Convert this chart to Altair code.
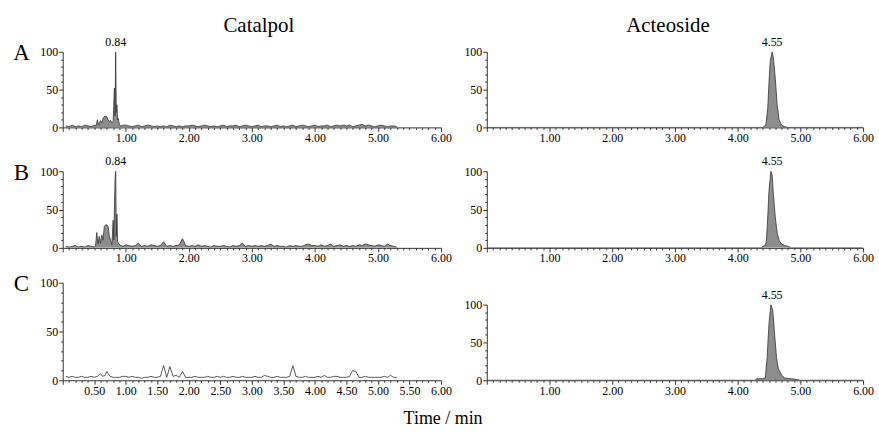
import altair as alt
import pandas as pd

# ---------------- data ----------------
early_times = [0.05, 0.10, 0.15, 0.20, 0.25, 0.30, 0.35, 0.40, 0.45, 0.50]

grid_times = [
    1.00, 1.05, 1.10, 1.15, 1.20, 1.25, 1.30, 1.35, 1.40, 1.45,
    1.50, 1.55, 1.60, 1.65, 1.70, 1.75, 1.80, 1.85, 1.90, 1.95,
    2.00, 2.05, 2.10, 2.15, 2.20, 2.25, 2.30, 2.35, 2.40, 2.45,
    2.50, 2.55, 2.60, 2.65, 2.70, 2.75, 2.80, 2.85, 2.90, 2.95,
    3.00, 3.05, 3.10, 3.15, 3.20, 3.25, 3.30, 3.35, 3.40, 3.45,
    3.50, 3.55, 3.60, 3.65, 3.70, 3.75, 3.80, 3.85, 3.90, 3.95,
    4.00, 4.05, 4.10, 4.15, 4.20, 4.25, 4.30, 4.35, 4.40, 4.45,
    4.50, 4.55, 4.60, 4.65, 4.70, 4.75, 4.80, 4.85, 4.90, 4.95,
    5.00, 5.05, 5.10, 5.15, 5.20, 5.25, 5.30,
]

# Catalpol, sample A
cat_a_early = [2, 1, 3, 1, 2, 1, 3, 2, 1, 3]
cat_a_peak_t = [0.53, 0.55, 0.57, 0.60, 0.62, 0.64, 0.67, 0.70, 0.72, 0.74, 0.76, 0.78,
                0.80, 0.82, 0.83, 0.84, 0.85, 0.86, 0.87, 0.88, 0.90, 0.93, 0.96]
cat_a_peak_v = [2, 10, 3, 9, 6, 12, 15, 14, 10, 8, 9, 6,
                8, 52, 15, 100, 20, 30, 10, 12, 3, 2, 3]
cat_a_noise = [
    3, 2, 1, 2, 3, 1, 2, 3, 2, 1,
    2, 1, 2, 1, 3, 2, 1, 2, 1, 2,
    2, 3, 2, 1, 2, 3, 2, 1, 2, 1,
    2, 3, 1, 2, 2, 3, 1, 2, 3, 2,
    1, 2, 3, 1, 2, 2, 1, 2, 3, 1,
    2, 1, 2, 3, 1, 2, 3, 2, 1, 2,
    3, 1, 2, 2, 3, 1, 2, 3, 2, 3,
    2, 3, 1, 2, 3, 4, 2, 3, 2, 1,
    2, 3, 2, 1, 2, 2, 1,
]

# Catalpol, sample B
cat_b_early = [2, 1, 2, 3, 1, 2, 1, 3, 2, 1]
cat_b_peak_t = [0.52, 0.54, 0.56, 0.58, 0.60, 0.62, 0.64, 0.66, 0.68, 0.70, 0.72, 0.74,
                0.76, 0.78, 0.80, 0.81, 0.83, 0.84, 0.85, 0.86, 0.87, 0.89, 0.92, 0.96]
cat_b_peak_v = [2, 20, 5, 15, 6, 17, 10, 28, 30, 30, 28, 15,
                10, 4, 36, 10, 88, 100, 15, 44, 8, 5, 3, 2]
cat_b_noise = [
    4, 3, 2, 3, 6, 2, 3, 2, 4, 3,
    2, 3, 8, 2, 3, 2, 3, 4, 12, 3,
    2, 3, 2, 4, 2, 3, 2, 1, 3, 2,
    2, 3, 2, 1, 3, 2, 3, 6, 2, 3,
    2, 3, 2, 3, 2, 3, 5, 2, 3, 2,
    2, 1, 3, 2, 3, 2, 2, 4, 5, 3,
    3, 2, 4, 2, 3, 5, 2, 3, 4, 2,
    3, 2, 3, 2, 4, 3, 5, 4, 3, 2,
    4, 3, 2, 5, 3, 2, 1,
]

# Catalpol, sample C (blank)
cat_c_early = [4, 3, 4, 3, 3, 4, 3, 3, 4, 3]
cat_c_peak_t = [0.55, 0.60, 0.63, 0.67, 0.70, 0.72, 0.75, 0.80, 0.85, 0.90, 0.95]
cat_c_peak_v = [4, 7, 4, 5, 9, 7, 4, 3, 3, 3, 4]
cat_c_noise = [
    4, 3, 4, 3, 3, 2, 3, 3, 4, 3,
    3, 4, 15, 3, 14, 4, 5, 3, 9, 3,
    3, 3, 4, 3, 3, 3, 4, 3, 3, 4,
    3, 4, 3, 3, 4, 3, 3, 4, 3, 3,
    3, 4, 3, 3, 5, 4, 3, 3, 4, 3,
    3, 3, 4, 15, 4, 3, 3, 4, 3, 3,
    3, 4, 3, 5, 3, 3, 4, 4, 3, 3,
    3, 4, 10, 9, 3, 3, 4, 3, 3, 3,
    3, 3, 4, 3, 5, 3, 3,
]

# Acteoside traces
act_a_t = [0.00, 4.40, 4.45, 4.48, 4.50, 4.52, 4.55, 4.57, 4.60, 4.63, 4.66, 4.70, 4.75, 4.80, 6.00]
act_a_v = [0, 0, 3, 25, 60, 88, 100, 92, 65, 30, 10, 3, 1, 0, 0]
act_b_t = [0.00, 4.38, 4.40, 4.44, 4.46, 4.48, 4.50, 4.53, 4.55, 4.57, 4.60, 4.63, 4.66, 4.70,
           4.75, 4.80, 4.86, 6.00]
act_b_v = [0, 0, 2, 3, 10, 40, 75, 100, 95, 70, 40, 20, 10, 5, 3, 2, 0, 0]
act_c_t = [0.00, 4.28, 4.30, 4.40, 4.44, 4.47, 4.50, 4.53, 4.56, 4.59, 4.62, 4.65, 4.70, 4.75,
           4.85, 4.95, 5.00, 6.00]
act_c_v = [0, 0, 2, 2, 3, 30, 75, 100, 92, 60, 30, 15, 7, 3, 2, 1, 0, 0]

peak_cat = {"t": [0.84], "v": [100], "label": ["0.84"]}
peak_act = {"t": [4.55], "v": [100], "label": ["4.55"]}

column_titles = ["Catalpol", "Acteoside"]
row_letters = ["A", "B", "C"]
x_title = "Time / min"
y_tick_values = [0, 10, 20, 30, 40, 50, 60, 70, 80, 90, 100]
x_tick_values = [round(i / 10, 1) for i in range(0, 61)]

FONT = "Liberation Serif"
AX = "#333333"


def frame(t, v):
    return pd.DataFrame({"t": t, "v": v})


def x_axis(half_labels):
    if half_labels:
        test = "abs(datum.value * 2 - round(datum.value * 2)) < 0.001"
    else:
        test = "abs(datum.value - round(datum.value)) < 0.001"
    return alt.Axis(
        values=x_tick_values,
        labelExpr=f"({test}) && datum.value > 0 ? format(datum.value, '.2f') : ''",
        tickSize={"condition": {"test": test, "value": 4}, "value": 2},
        labelOverlap=False, labelFlush=False, labelBound=False,
        labelFont=FONT, labelFontSize=12, labelColor="black", labelPadding=1,
        domainColor=AX, tickColor=AX, grid=False, title=None,
    )


def y_axis(letter):
    kw = dict(
        values=y_tick_values,
        labelExpr="datum.value % 50 == 0 ? datum.value : ''",
        tickSize={"condition": {"test": "datum.value % 50 == 0", "value": 4}, "value": 2},
        labelOverlap=False, labelFlush=False,
        labelFont=FONT, labelFontSize=12, labelColor="black", labelPadding=1,
        domainColor=AX, tickColor=AX, grid=False,
    )
    if letter:
        kw.update(title=letter, titleAngle=0, titleX=-42, titleY=8, titleAlign="center",
                  titleBaseline="alphabetic", titleFont=FONT, titleFontSize=23,
                  titleFontWeight="normal", titleColor="black")
    else:
        kw.update(title=None)
    return alt.Axis(**kw)


def panel(df, width, height, filled=True, letter=None, title=None, peak=None,
          half_labels=False, title_dx=0):
    x = alt.X("t:Q", scale=alt.Scale(domain=[0, 6], nice=False, zero=False),
              axis=x_axis(half_labels))
    y = alt.Y("v:Q", scale=alt.Scale(domain=[0, 100], nice=False), axis=y_axis(letter))
    base = alt.Chart(df)
    if filled:
        trace = base.mark_area(color="#5c5c5c", line={"color": "#333333", "strokeWidth": 0.8},
                               interpolate="linear", clip=True).encode(x=x, y=y)
    else:
        trace = base.mark_line(color="#444444", strokeWidth=0.9, clip=True).encode(x=x, y=y)
    layers = [trace]
    if peak is not None:
        lab = alt.Chart(pd.DataFrame(peak)).mark_text(
            font=FONT, fontSize=12, color="black", dy=-3, baseline="bottom"
        ).encode(x=x, y=y, text="label:N")
        layers.append(lab)
    ch = alt.layer(*layers).properties(width=width, height=height)
    if title:
        ch = ch.properties(title=alt.TitleParams(title, font=FONT, fontSize=21,
                                                 fontWeight="normal", color="black",
                                                 anchor="middle", offset=0, dx=title_dx))
    return ch


catA = panel(frame(early_times + cat_a_peak_t + grid_times, cat_a_early + cat_a_peak_v + cat_a_noise),
             380, 76, letter="A", title=column_titles[0], peak=peak_cat, title_dx=7)
catB = panel(frame(early_times + cat_b_peak_t + grid_times, cat_b_early + cat_b_peak_v + cat_b_noise),
             380, 77, letter="B", peak=peak_cat)
catC = panel(frame(early_times + cat_c_peak_t + grid_times, cat_c_early + cat_c_peak_v + cat_c_noise),
             380, 98, filled=False, letter="C", half_labels=True)

actA = panel(frame(act_a_t, act_a_v), 378, 76, title=column_titles[1], peak=peak_act, title_dx=-7)
actB = panel(frame(act_b_t, act_b_v), 378, 77, peak=peak_act)
actC = panel(frame(act_c_t, act_c_v), 378, 76, peak=peak_act)

left = alt.vconcat(alt.vconcat(catA, catB, spacing=12), catC, spacing=9)
right = alt.vconcat(alt.vconcat(actA, actB, spacing=12), actC, spacing=25)

chart = alt.hconcat(left, right, spacing=12).properties(
    title=alt.TitleParams(x_title, orient="bottom", anchor="middle", font=FONT, fontSize=18,
                          fontWeight="normal", color="black", offset=14),
    padding={"left": 12, "top": 14, "right": 5, "bottom": 5},
    background="white",
).configure_view(stroke=None)

chart.save("out.html", embed_options={"renderer": "svg", "actions": False})
